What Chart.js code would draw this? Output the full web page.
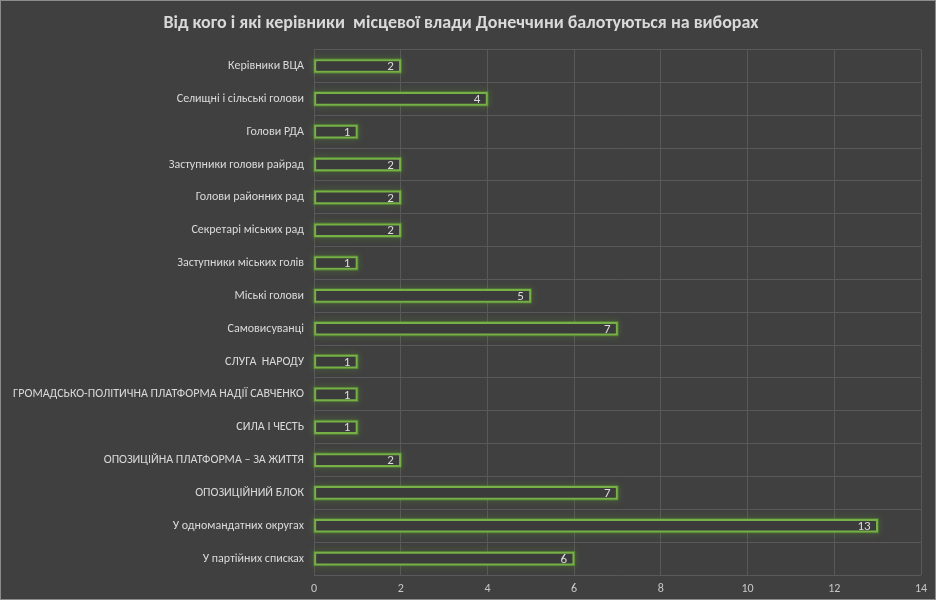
<!DOCTYPE html>
<html>
<head>
<meta charset="utf-8">
<script src="https://cdn.jsdelivr.net/npm/chart.js@4"></script>
<style>
    html, body { margin: 0; padding: 0; background: #404040; }
    #wrap { width: 936px; height: 600px; position: relative; box-sizing: border-box; border: 1px solid #8c8c8c; }
</style>
</head>
<body>
<div id="wrap"><canvas id="grafico"></canvas></div>
<script>
const titulo = 'Від кого і які керівники  місцевої влади Донеччини балотуються на виборах';

const categorias = [
    'Керівники ВЦА',
    'Селищні і сільські голови',
    'Голови РДА',
    'Заступники голови райрад',
    'Голови районних рад',
    'Секретарі міських рад',
    'Заступники міських голів',
    'Міські голови',
    'Самовисуванці',
    'СЛУГА  НАРОДУ',
    'ГРОМАДСЬКО-ПОЛІТИЧНА ПЛАТФОРМА НАДІЇ САВЧЕНКО',
    'СИЛА І ЧЕСТЬ',
    'ОПОЗИЦІЙНА ПЛАТФОРМА – ЗА ЖИТТЯ',
    'ОПОЗИЦІЙНИЙ БЛОК',
    'У одномандатних округах',
    'У партійних списках'
];

const valores = [2, 4, 1, 2, 2, 2, 1, 5, 7, 1, 1, 1, 2, 7, 13, 6];

const ticksX = [0, 2, 4, 6, 8, 10, 12, 14];

const fonte = 'Carlito, "Liberation Sans Narrow", "Open Sans", sans-serif';

// brilho verde em volta das barras + rótulos de valor
const brilho = {
    id: 'brilho',
    beforeDatasetsDraw(chart) {
        const ctx = chart.ctx;
        const meta = chart.getDatasetMeta(0);
        ctx.save();
        ctx.shadowColor = 'rgba(100, 170, 40, 0.75)';
        ctx.shadowBlur = 6;
        ctx.strokeStyle = 'rgba(90, 150, 50, 0.7)';
        ctx.lineWidth = 2;
        meta.data.forEach(barra => {
            const { x, y, base, height } = barra.getProps(['x', 'y', 'base', 'height']);
            ctx.strokeRect(base, y - height / 2, x - base, height);
        });
        ctx.restore();
    },
    afterDatasetsDraw(chart) {
        const ctx = chart.ctx;
        const meta = chart.getDatasetMeta(0);
        ctx.save();
        ctx.font = '13px ' + fonte;
        ctx.fillStyle = '#dcdcdc';
        ctx.textAlign = 'right';
        ctx.textBaseline = 'middle';
        meta.data.forEach((barra, i) => {
            ctx.fillText(String(valores[i]), barra.x - 7, barra.y + 1);
        });
        ctx.restore();
    }
};

new Chart(document.getElementById('grafico'), {
    type: 'bar',
    data: {
        labels: categorias,
        datasets: [{
            data: valores,
            backgroundColor: '#3b3b3b',
            borderColor: '#78b048',
            borderWidth: 2,
            borderSkipped: false,
            barThickness: 13
        }]
    },
    options: {
        indexAxis: 'y',
        responsive: true,
        maintainAspectRatio: false,
        animation: false,
        layout: { padding: { left: 0, right: 14, top: 0, bottom: 0 } },
        plugins: {
            legend: { display: false },
            tooltip: { enabled: false },
            title: {
                display: true,
                text: titulo,
                color: '#d9d9d9',
                font: { family: fonte, size: 18, weight: 'bold' },
                padding: { top: 12, bottom: 15 }
            }
        },
        scales: {
            x: {
                min: 0,
                max: 14,
                afterBuildTicks(axis) { axis.ticks = ticksX.map(v => ({ value: v })); },
                afterFit(axis) { axis.height = 24; },
                grid: { color: '#595959', drawTicks: false },
                border: { display: false },
                ticks: { color: '#c8c8c8', font: { family: fonte, size: 12 }, padding: 7 }
            },
            y: {
                afterFit(axis) { axis.width = 313; },
                grid: { color: '#595959', offset: true, drawTicks: false },
                border: { display: false },
                ticks: { color: '#d9d9d9', font: { family: fonte, size: 12 }, padding: 10, autoSkip: false }
            }
        }
    },
    plugins: [brilho]
});
</script>
</body>
</html>
